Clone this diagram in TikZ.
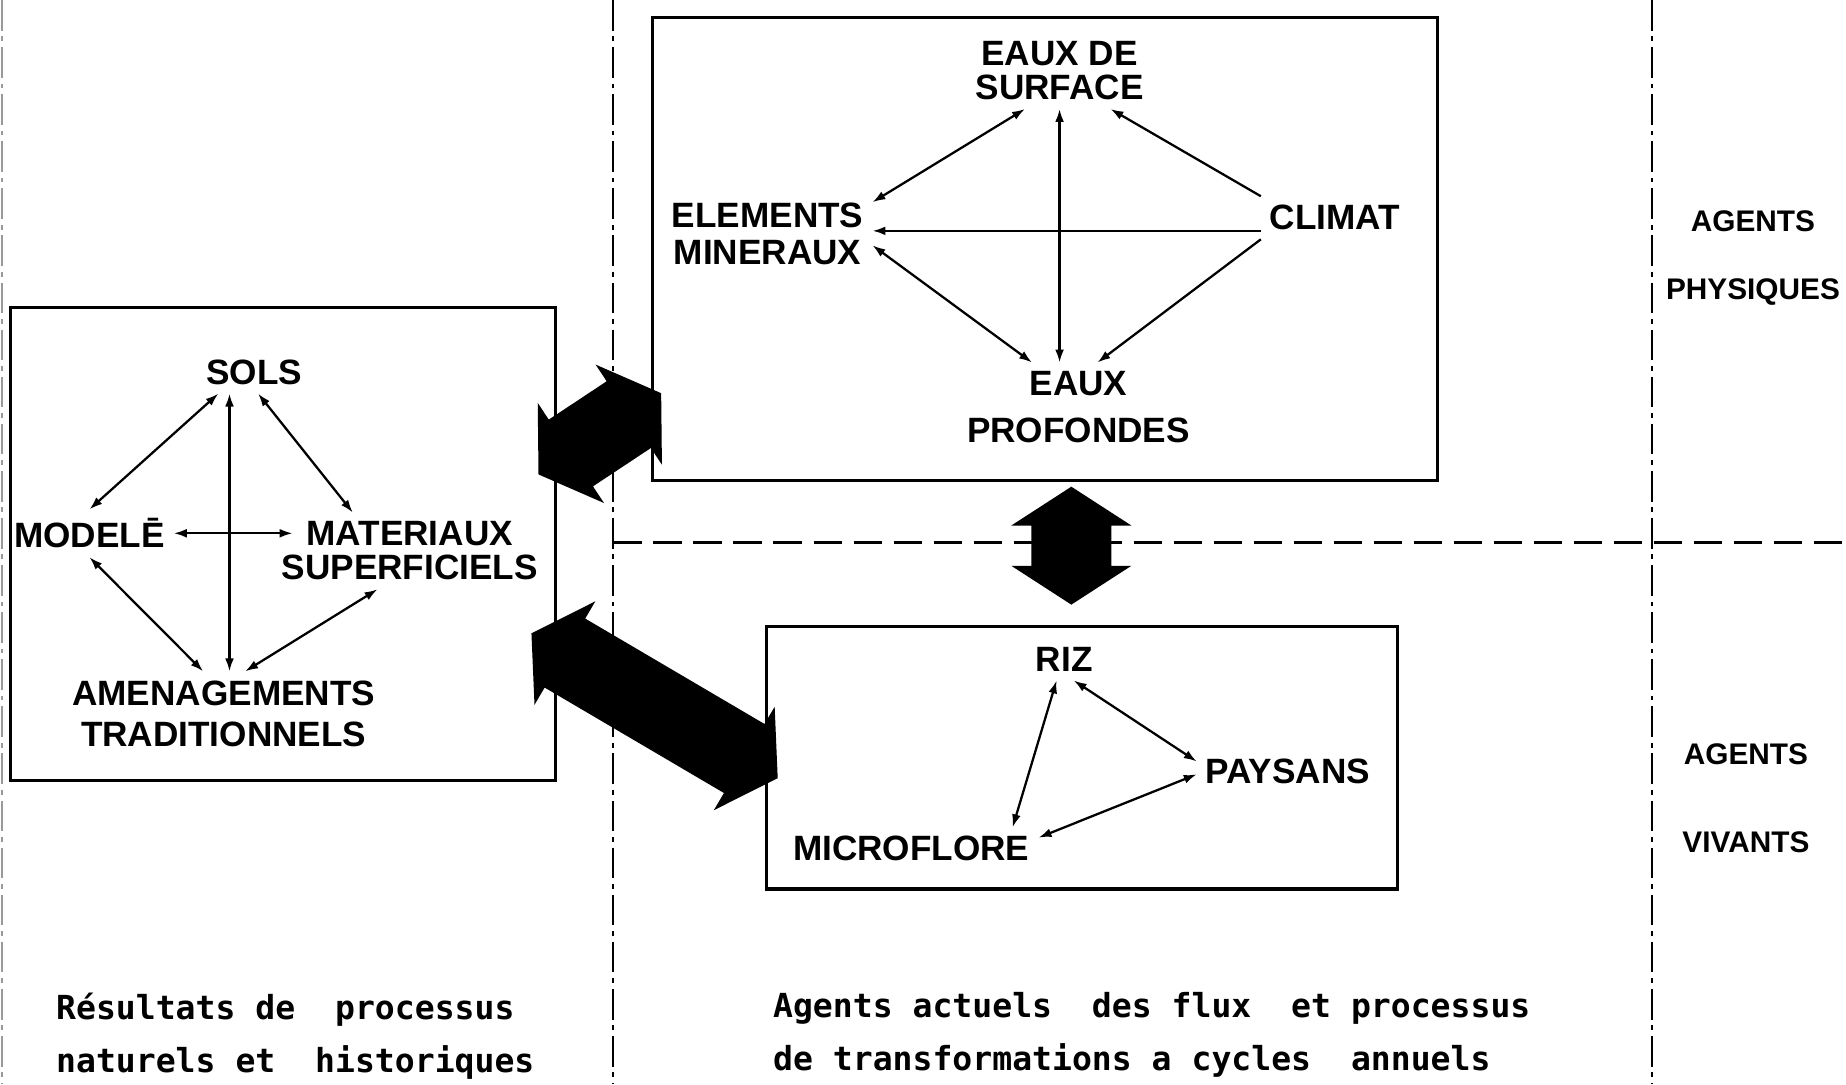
\documentclass[tikz,border=0pt]{standalone}
\usepackage{fontspec}
\setmainfont{Liberation Sans}
\newfontfamily\typefont{DejaVu Sans Mono}
\usetikzlibrary{arrows.meta,fit,calc}
\tikzset{
  panel/.style={draw,line width=0.8pt,inner sep=0pt},
  term/.style={font=\fontsize{8.5}{9}\selectfont\bfseries,align=center,inner sep=2pt},
  agent/.style={font=\fontsize{7.2}{16.4}\selectfont\bfseries,align=center,inner sep=1pt},
  legend/.style={font=\typefont\fontsize{8}{12.8}\selectfont\bfseries,align=left,
    inner sep=0pt,anchor=west},
  link/.style={<->,line width=0.55pt},
  flow/.style={->,line width=0.55pt},
  fat/.style={fill=black,line join=miter},
  divider/.style={line width=0.5pt,dash pattern=on 2.6mm off 0.5mm on 0.4mm off 0.5mm},
  band/.style={line width=0.8pt,dash pattern=on 2.4mm off 1mm}
}
% broad double arrow between two named points
\newcommand{\fatarrow}[2]{%
  \fill[fat] (#1)
    -- ($(#1)!3.3mm!(#2)!5.1mm!90:(#2)$) -- ($(#1)!3.3mm!(#2)!3.4mm!90:(#2)$)
    -- ($(#2)!3.3mm!(#1)!3.4mm!-90:(#1)$) -- ($(#2)!3.3mm!(#1)!5.1mm!-90:(#1)$)
    -- (#2)
    -- ($(#2)!3.3mm!(#1)!5.1mm!90:(#1)$) -- ($(#2)!3.3mm!(#1)!3.4mm!90:(#1)$)
    -- ($(#1)!3.3mm!(#2)!3.4mm!-90:(#2)$) -- ($(#1)!3.3mm!(#2)!5.1mm!-90:(#2)$)
    -- cycle;}
\begin{document}
\begin{tikzpicture}[x=0.1mm,y=-0.1mm,>={Latex[length=1.1mm,width=0.75mm]}]
  \useasboundingbox (0,0) rectangle (1568,921);

  % dividers
  \draw[divider,black!40] (2,0) -- (2,921);
  \draw[divider] (521,0) -- (521,921);
  \draw[divider] (1403,0) -- (1403,921);
  \draw[band] (521,461) -- (1568,461);

  % panels
  \node[panel,fit={(9,261) (472,663)}] (solsbox) {};
  \node[panel,fit={(554,15) (1221,408)}] (eauxbox) {};
  \node[panel,fit={(651,532) (1187,755)}] (rizbox) {};

  % physical agents
  \node[term] (eauxsurf) at (900,60) {EAUX DE\\[-0.8pt]SURFACE};
  \node[term] (elements) at (652,199) {ELEMENTS\\MINERAUX};
  \node[term] (climat) at (1134,185) {CLIMAT};
  \node[term] (eauxprof) at (916,346) {EAUX\\[2.3pt]PROFONDES};
  \draw[link] (eauxsurf.228) -- (elements.17);
  \draw[link] (eauxsurf.south) -- (eauxsurf.south |- eauxprof.north);
  \draw[flow] (climat.north west) -- (eauxsurf.323);
  \draw[flow] (climat.190) -- (climat.190 -| elements.east);
  \draw[link] (elements.354) -- (eauxprof.136);
  \draw[flow] (climat.south west) -- (eauxprof.67);

  % inherited results
  \node[term] (sols) at (216,316) {SOLS};
  \node[term] (modele) at (76,453) {MODELĒ};
  \node[term] (materiaux) at (348,468) {MATERIAUX\\[-0.8pt]SUPERFICIELS};
  \node[term] (amenag) at (190,606) {AMENAGEMENTS\\[0.9pt]TRADITIONNELS};
  \draw[link] (sols.211) -- (modele.north);
  \draw[link] (sols.221) -- (sols.221 |- amenag.north);
  \draw[link] (sols.280) -- (materiaux.146);
  \draw[link,shorten >=-1.7mm] (modele.east) -- (modele.east -| materiaux.west);
  \draw[link] (modele.south) -- (amenag.116);
  \draw[link] (materiaux.230) -- (amenag.63);

  % living agents
  \node[term] (riz) at (904,560) {RIZ};
  \node[term] (paysans) at (1094,655) {PAYSANS};
  \node[term] (microflore) at (774,721) {MICROFLORE};
  \draw[link] (riz.250) -- (microflore.12);
  \draw[link] (riz.294) -- (paysans.174);
  \draw[link] (microflore.5) -- (paysans.182);

  % exchanges between panels
  \coordinate (solsup) at ([shift={(-16,-59)}]solsbox.east);
  \coordinate (solsdown) at ([shift={(-22,76)}]solsbox.east);
  \coordinate (eauxleft) at ([shift={(9,122.5)}]eauxbox.west);
  \coordinate (eauxdown) at ([shift={(22.5,4)}]eauxbox.south);
  \coordinate (rizup) at ([shift={(-9,-17)}]rizbox.north);
  \coordinate (rizleft) at ([shift={(11,17.5)}]rizbox.west);
  \fatarrow{solsup}{eauxleft}
  \fatarrow{rizup}{eauxdown}
  \fatarrow{solsdown}{rizleft}

  % side and bottom labels
  \node[agent] (physique) at (1489,219) {AGENTS\\PHYSIQUES};
  \node[agent] (vivant) at (1483,678) {AGENTS\\[4.9pt]VIVANTS};
  \node[legend] (resultats) at (47,880)
    {Résultats de~~processus\\naturels et~~historiques};
  \node[legend] (actuels) at (656,879)
    {Agents actuels~~des~flux~~et processus\\de transformations~a~cycles~~annuels};
\end{tikzpicture}
\end{document}
